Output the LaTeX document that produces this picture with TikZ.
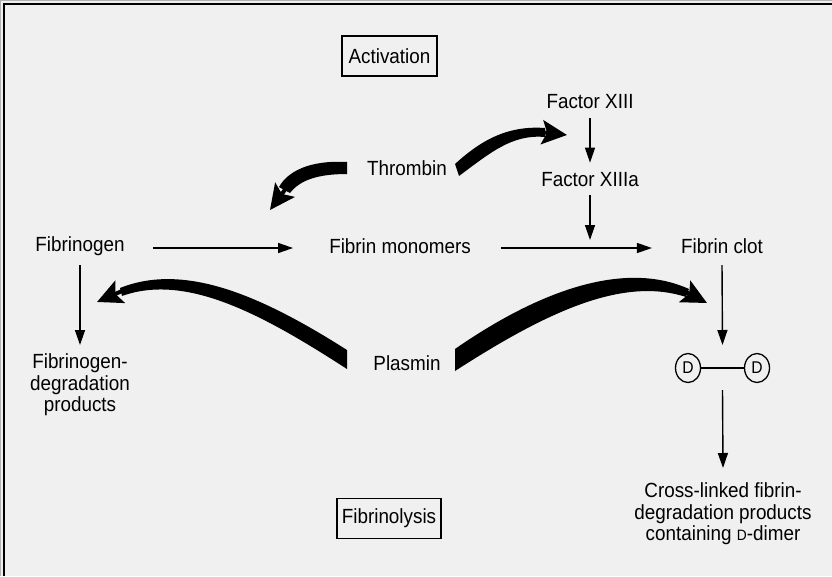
\documentclass[tikz,border=0pt]{standalone}
\usepackage{fontspec}
\setmainfont[FakeStretch=0.92]{Liberation Sans}
\usetikzlibrary{arrows.meta,shapes.geometric,calc}
\definecolor{bg}{HTML}{F0F0F0}
\begin{document}
\begin{tikzpicture}[x=1pt,y=-1pt,
  lbl/.style={font=\fontsize{20.5}{21.5}\selectfont, inner sep=0pt, align=center},
  boxed/.style={lbl, draw, line width=1.6pt, minimum height=40pt},
  thinarrow/.style={line width=1.4pt, -{Triangle[length=15pt,width=10pt]}},
  thickhead/.style={line width=4pt, -{Stealth[length=25pt,width=24pt,inset=5pt]}},
  ddot/.style={ellipse, draw, line width=1.3pt, minimum width=25pt, minimum height=29pt, inner sep=0pt, font=\fontsize{17}{17}\selectfont}]
\useasboundingbox (0,0) rectangle (832,576);
\fill[bg] (0,0) rectangle (832,576);
\draw[gray!60, line width=1pt] (0.5,576) -- (0.5,0.5) -- (832,0.5);
\draw[black, line width=2.5pt] (4,576) -- (4,4) -- (832,4);

% nodes
\node[boxed, minimum width=95pt] (act) at (389.5,56) {Activation};
\node[lbl] (f13) at (590,102) {Factor XIII};
\node[lbl] (thr) at (407,168) {Thrombin};
\node[lbl] (f13a) at (590,180) {Factor XIIIa};
\node[lbl] (fgn) at (80,246) {Fibrinogen};
\node[lbl] (fm) at (400,246) {Fibrin monomers};
\node[lbl] (fc) at (722,246) {Fibrin clot};
\node[lbl] (pl) at (407,363) {Plasmin};
\node[lbl] (fdp) at (80,385) {Fibrinogen-\\degradation\\products};
\node[lbl] (xl) at (723,514) {Cross-linked fibrin-\\degradation products\\containing {\fontsize{15}{15}\selectfont D}-dimer};
\node[boxed, minimum width=104pt] (fib) at (389,518.5) {Fibrinolysis};
\node[ddot] (d1) at (688,368) {D};
\node[ddot] (d2) at (757,368) {D};
\coordinate (dd) at (722.5,368);
\coordinate (j) at (590,248);

% thin connectors
\draw[line width=1.4pt] (d1) -- (d2);
\draw[thinarrow] ([xshift=28pt,yshift=-2pt]fgn.east) -- ([xshift=-36pt,yshift=-2pt]fm.west);
\draw[thinarrow] ([xshift=30pt,yshift=-2pt]fm.east) -- ([xshift=-29pt,yshift=-2pt]fc.west);
\draw[thinarrow] ([yshift=-9pt]f13.south) -- ([yshift=10pt]f13a.north);
\draw[thinarrow] ([yshift=-8pt]f13a.south) -- ([yshift=8pt]j);
\draw[thinarrow] ([yshift=-19pt]fgn.center) -- ([yshift=40pt]fdp.center);
\draw[thinarrow] ([yshift=-19pt]fc.center) -- ([yshift=23pt]dd);
\draw[thinarrow] ([yshift=-22pt]dd) -- ([yshift=46pt]xl.center);

% thick tapered arrows
% Thrombin -> left
\fill (347,162) .. controls (310,160) and (288,171) .. (279,187) -- (290,193) .. controls (300,180) and (318,174) .. (347,174) -- cycle;
\coordinate (tlS) at (287,187); \coordinate (tlT) at (270,210);
\draw[thickhead] (tlS) -- (tlT);
% Thrombin -> Factor XIII
\fill (455,164) .. controls (478,143) and (505,125) .. (545,128) -- (545,137) .. controls (512,134) and (490,153) .. (459,176) -- cycle;
\coordinate (trS) at (540,132); \coordinate (trT) at (567,135);
\draw[thickhead] (trS) -- (trT);
% Plasmin -> left
\fill (347,350) .. controls (262,296) and (185,262) .. (120,288) -- (122,296) .. controls (186,273) and (262,314) .. (347,369) -- cycle;
\coordinate (plS) at (122,291); \coordinate (plT) at (97,302);
\draw[thickhead] (plS) -- (plT);
% Plasmin -> right
\fill (455,349) .. controls (540,290) and (625,260) .. (689,289) -- (686,297) .. controls (622,276) and (545,313) .. (455,371) -- cycle;
\coordinate (prS) at (684,291); \coordinate (prT) at (707,303);
\draw[thickhead] (prS) -- (prT);
\end{tikzpicture}
\end{document}
